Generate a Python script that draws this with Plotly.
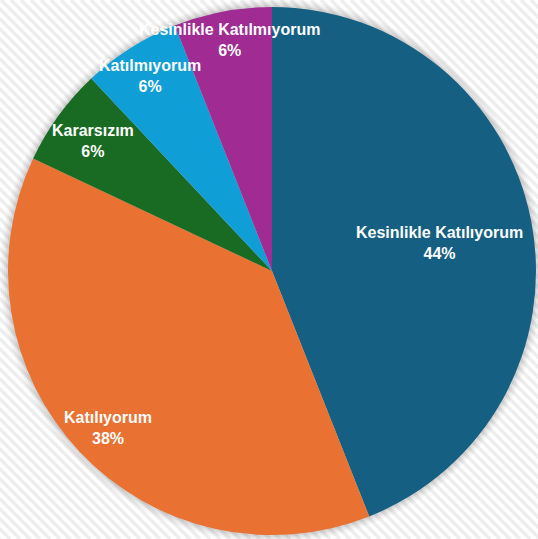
import math
import plotly.graph_objects as go

labels = ["Kesinlikle Katılıyorum", "Katılıyorum", "Kararsızım", "Katılmıyorum", "Kesinlikle Katılmıyorum"]
values = [44, 38, 6, 6, 6]
colors = ["#156082", "#E97132", "#196B24", "#0F9ED5", "#A02B93"]
label_radius = [0.645, 0.86, 0.84, 0.871, 0.89]
label_angle_shift = [1.3, -0.5, 0.0, 0.4, 0.3]

W, H = 538, 539
cx, cy, R = 272, 271, 264

def dom(pad):
    return dict(x=[(cx - R - pad) / W, (cx + R + pad) / W],
                y=[1 - (cy + R + pad) / H, 1 - (cy - R - pad) / H])

fig = go.Figure()

fig.add_trace(go.Pie(
    labels=labels, values=values, sort=False, direction="clockwise", rotation=0,
    marker=dict(colors=colors, line=dict(width=0)),
    textinfo="none", showlegend=False, domain=dom(0), hoverinfo="label+percent",
))

# labels
total = sum(values)
cum = 0
annotations = []
for lab, v, f, da in zip(labels, values, label_radius, label_angle_shift):
    mid = (cum + v / 2) / total * 2 * math.pi + math.radians(da)
    cum += v
    px = cx + R * f * math.sin(mid)
    py = cy - R * f * math.cos(mid)
    annotations.append(dict(
        x=px / W, y=1 - py / H, xref="paper", yref="paper",
        text=f"<b>{lab}<br>{round(v / total * 100)}%</b>", showarrow=False,
        font=dict(family="Liberation Sans, Arial, sans-serif", size=16, color="white"),
        align="center", xanchor="center", yanchor="middle"))

# striped background
shapes = []
x0 = -H
while x0 < W + 10:
    shapes.append(dict(type="line", xref="paper", yref="paper",
                       x0=x0 / W, y0=1, x1=(x0 + H) / W, y1=0,
                       line=dict(color="#eeeeee", width=3.5), layer="below"))
    x0 += 10

# soft shadow around the pie
for pad, a in [(8, 0.025), (6, 0.035), (4, 0.045), (2, 0.06)]:
    shapes.append(dict(type="circle", xref="paper", yref="paper",
                       x0=(cx - R - pad) / W, x1=(cx + R + pad) / W,
                       y0=1 - (cy + R + pad) / H, y1=1 - (cy - R - pad) / H,
                       fillcolor=f"rgba(0,0,0,{a})", line=dict(width=0), layer="below"))

fig.update_layout(
    width=W, height=H, margin=dict(l=0, r=0, t=0, b=0, pad=0),
    paper_bgcolor="white", plot_bgcolor="white",
    annotations=annotations, shapes=shapes,
)

fig.write_html("out.html", config={"displayModeBar": False},
               post_script="document.body.style.margin='0';document.body.style.overflow='hidden';")
